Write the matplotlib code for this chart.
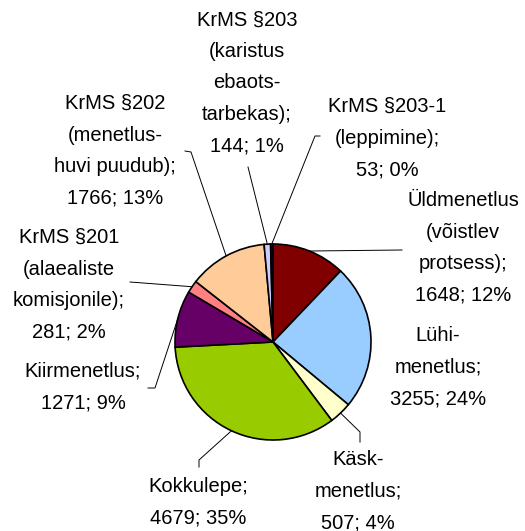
import numpy as np
import matplotlib
matplotlib.use("Agg")
import matplotlib.pyplot as plt

W, H = 525, 531

labels = ["Üldmenetlus\n(võistlev\nprotsess)", "Lühi-\nmenetlus", "Käsk-\nmenetlus",
          "Kokkulepe", "Kiirmenetlus", "KrMS §201\n(alaealiste\nkomisjonile)",
          "KrMS §202\n(menetlus-\nhuvi puudub)", "KrMS §203\n(karistus\nebaots-\ntarbekas)",
          "KrMS §203-1\n(leppimine)"]
values = [1648, 3255, 507, 4679, 1271, 281, 1766, 144, 53]
pcts = ["12%", "24%", "4%", "35%", "9%", "2%", "13%", "1%", "0%"]
colors = ["#800000", "#99CCFF", "#FFFFCC", "#99CC00", "#660066", "#FF8080",
          "#FFCC99", "#CCCCFF", "#000080"]

# label block centres (pixels from top-left) and leader-line bend points
text_pos = [(463, 248), (438, 367), (358, 491), (198, 502), (83, 387),
            (69, 285), (115, 151), (247, 83), (387, 138)]
leaders = [[(402, 250)], None, [(360, 432), (360, 442)], [(199, 460), (199, 467)],
           [(155, 388), (148, 388)], [(130, 282)], [(191, 152), (185, 151)],
           [(248, 167)], [(315, 136), (320, 136)]]

plt.rcParams['font.family'] = ['Liberation Sans', 'DejaVu Sans']

fig = plt.figure(figsize=(W / 100, H / 100), dpi=100)
ax = fig.add_axes([0, 0, 1, 1])

cx, cy, r = 273, H - 342, 98
wedges, _ = ax.pie(values, colors=colors, startangle=90, counterclock=False,
                   center=(cx, cy), radius=r, frame=True,
                   wedgeprops=dict(edgecolor='black', linewidth=1.2))
ax.set_xlim(0, W)
ax.set_ylim(0, H)
ax.set_aspect('equal')
ax.axis('off')

for i, w in enumerate(wedges):
    tx, ty = text_pos[i]
    ax.text(tx, H - ty, f"{labels[i]};\n{values[i]}; {pcts[i]}", ha='center', va='center',
            fontsize=14.5, linespacing=1.84, color='black')
    if leaders[i] is None:
        continue
    a = np.deg2rad((w.theta1 + w.theta2) / 2)
    xs = [cx + r * np.cos(a)] + [p[0] for p in leaders[i]]
    ys = [cy + r * np.sin(a)] + [H - p[1] for p in leaders[i]]
    ax.plot(xs, ys, color='black', lw=0.7)

fig.savefig("out.png", dpi=100)
